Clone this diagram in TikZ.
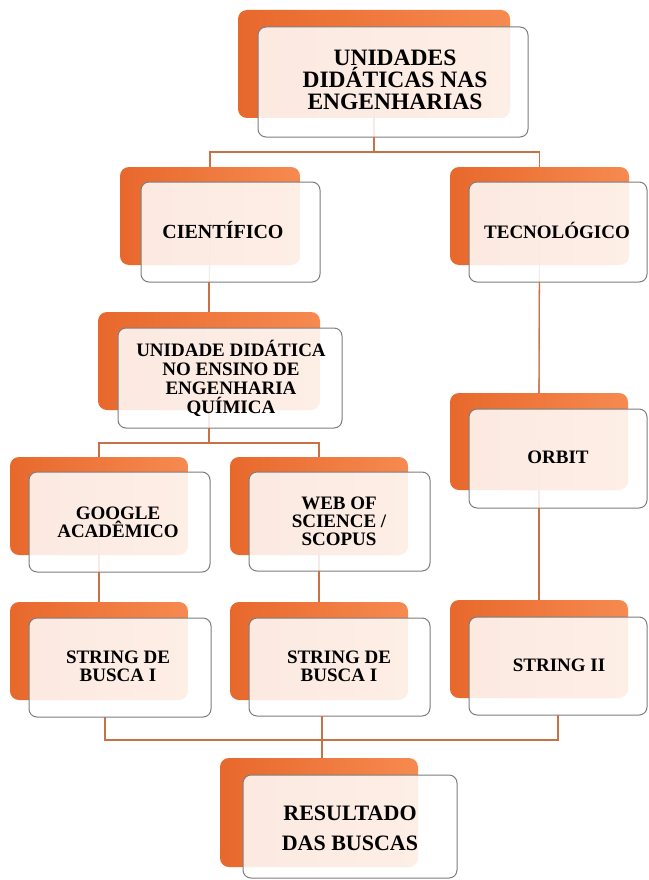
\documentclass[tikz,border=0pt]{standalone}
\usepackage{fontspec}
\setmainfont{Liberation Serif}
\definecolor{oD}{RGB}{232,104,44}
\definecolor{oM}{RGB}{242,124,62}
\definecolor{oL}{RGB}{246,138,80}
\definecolor{bord}{RGB}{125,125,125}
\definecolor{lineC}{RGB}{200,112,70}
\tikzset{
  back/.style={draw=none, rounded corners=9pt, left color=oD, middle color=oM, right color=oL, inner sep=0pt, outer sep=0pt},
  front/.style={draw=bord, line width=1pt, rounded corners=8pt, fill=white, fill opacity=0.86, draw opacity=1, inner sep=0pt, outer sep=0pt},
  lbl/.style={font=\bfseries\fontsize{19}{18}\selectfont, align=center, text=black, inner sep=0pt},
  conn/.style={draw=lineC, line width=1.1pt},
}
\begin{document}
\begin{tikzpicture}[x=1pt,y=-1pt]
\useasboundingbox[fill=white] (0,0) rectangle (648,880);

% junctions
\coordinate (j1) at (374,152);
\coordinate (j2) at (209,443);
\coordinate (j3) at (322,740);

% ---- back layers ----
\node[back, minimum width=272pt, minimum height=108pt] (topB) at (374,64) {};
\node[back, minimum width=180pt, minimum height=98pt] (cientB) at (210,216) {};
\node[back, minimum width=179pt, minimum height=98pt] (tecB) at (539.5,216) {};
\node[back, minimum width=222pt, minimum height=98pt] (unidB) at (209,361) {};
\node[back, minimum width=178pt, minimum height=98pt] (googB) at (99,506) {};
\node[back, minimum width=178pt, minimum height=98pt] (webB) at (319,506) {};
\node[back, minimum width=178pt, minimum height=97pt] (orbB) at (539,441.5) {};
\node[back, minimum width=178pt, minimum height=98pt] (str1B) at (99,651) {};
\node[back, minimum width=178pt, minimum height=98pt] (str2B) at (319,651) {};
\node[back, minimum width=178pt, minimum height=98pt] (str3B) at (539,649) {};
\node[back, minimum width=198pt, minimum height=109pt] (resB) at (319,812.5) {};

% ---- connectors behind the front layers ----
\draw[conn] (topB.center) -- (j1);
\draw[conn] (cientB.north) |- (j1) -| (tecB.north);
\draw[conn] (cientB.center) -- (unidB.north);
\draw[conn] (unidB.center) -- (j2);
\draw[conn] (googB.north) |- (j2) -| (webB.north);
\draw[conn] (googB.center) -- (str1B.north);
\draw[conn] (webB.center) -- (str2B.north);
\draw[conn] (tecB.center) -- (orbB.north);
\draw[conn] (orbB.center) -- (str3B.north);

% ---- front layers ----
\node[front, minimum width=270pt, minimum height=110pt] (topF) at (393,82) {};
\node[front, minimum width=179pt, minimum height=100pt] (cientF) at (230.5,232) {};
\node[front, minimum width=178pt, minimum height=100pt] (tecF) at (558,232) {};
\node[front, minimum width=224pt, minimum height=100pt] (unidF) at (230,378) {};
\node[front, minimum width=181pt, minimum height=100pt] (googF) at (119.5,522) {};
\node[front, minimum width=181pt, minimum height=99pt] (webF) at (339.5,521.5) {};
\node[front, minimum width=178pt, minimum height=99pt] (orbF) at (558,458.5) {};
\node[front, minimum width=182pt, minimum height=99pt] (str1F) at (120,667.5) {};
\node[front, minimum width=181pt, minimum height=98pt] (str2F) at (339.5,667) {};
\node[front, minimum width=178pt, minimum height=98pt] (str3F) at (558,666) {};
\node[front, minimum width=214pt, minimum height=103pt] (resF) at (350,826.5) {};

% ---- visible connectors ----
\draw[conn] (topF.south -| topB.north) -- (j1);
\draw[conn] (cientF.south -| unidB.north) -- (unidB.north);
\draw[conn] (unidF.south -| unidB.north) -- (j2);
\draw[conn] (googF.south -| googB.north) -- (str1B.north);
\draw[conn] (webF.south -| webB.north) -- (str2B.north);
\draw[conn] (tecF.south -| tecB.north) -- (orbB.north);
\draw[conn] (orbF.south -| orbB.north) -- (str3B.north);
\draw[conn] ([xshift=-15pt]str1F.south) |- (j3);
\draw[conn] (str3F.south) |- (j3);
\draw[conn] ([xshift=-17.5pt]str2F.south) -- (j3) -- (j3 |- resB.north);

% ---- labels ----
\node[lbl, font=\bfseries\fontsize{23.5}{22}\selectfont] (topT) at (395,80) {UNIDADES\\DIDÁTICAS NAS\\ENGENHARIAS};
\node[lbl, font=\bfseries\fontsize{20}{18}\selectfont] (cientT) at (223,230) {CIENTÍFICO};
\node[lbl] (tecT) at (557,230) {TECNOLÓGICO};
\node[lbl, font=\bfseries\fontsize{19}{19}\selectfont] (unidT) at (231,378) {UNIDADE DIDÁTICA\\NO ENSINO DE\\ENGENHARIA\\QUÍMICA};
\node[lbl] (googT) at (118,522) {GOOGLE\\ACADÊMICO};
\node[lbl] (webT) at (339,521) {WEB OF\\SCIENCE /\\SCOPUS};
\node[lbl] (orbT) at (558,457) {ORBIT};
\node[lbl] (str1T) at (118,666) {STRING DE\\BUSCA I};
\node[lbl] (str2T) at (339,666) {STRING DE\\BUSCA I};
\node[lbl] (str3T) at (559,665) {STRING II};
\node[lbl, font=\bfseries\fontsize{22}{30}\selectfont] (resT) at (350,828) {RESULTADO\\DAS BUSCAS};
\end{tikzpicture}
\end{document}
